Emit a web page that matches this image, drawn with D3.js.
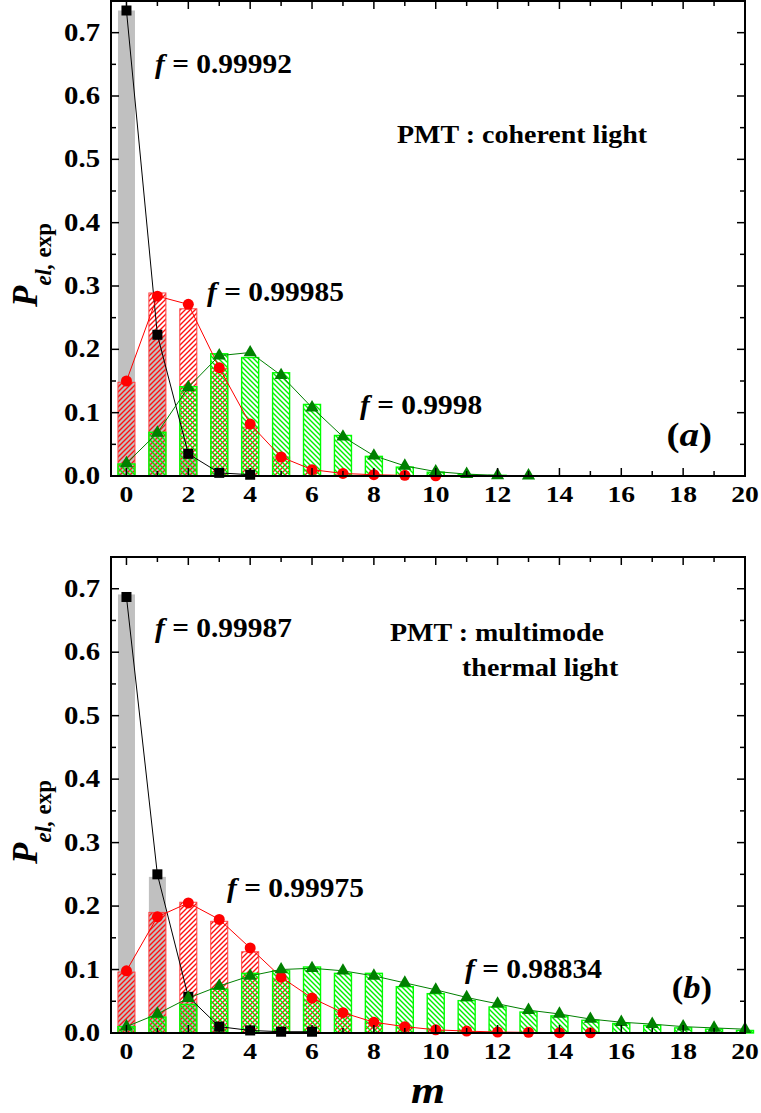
<!DOCTYPE html>
<html><head><meta charset="utf-8">
<script src="https://cdn.jsdelivr.net/npm/d3@7"></script>
<style>
body{margin:0;background:#fff;}
svg{display:block;}
</style></head>
<body>
<svg id="chart" width="761" height="1113"></svg>
<script>
// ---------- DATA ----------
const xTicks = [0,2,4,6,8,10,12,14,16,18,20];
const yTicks = [0.0,0.1,0.2,0.3,0.4,0.5,0.6,0.7];

// Panel (a): PMT, coherent light
const aGrayBars   = [0.735,0.222,0.035,0.005,0.002];
const aSquares    = [0.735,0.223,0.035,0.005,0.002];
const aRedBars    = [0.148,0.289,0.264,0.170,0.077,0.030,0.009,0.003,0.001,0.0005,0.0002];
const aCircles    = [0.150,0.284,0.271,0.171,0.082,0.030,0.010,0.004,0.002,0.001,0.0003];
const aGreenBars  = [0.019,0.069,0.141,0.193,0.187,0.163,0.113,0.064,0.031,0.014,0.006,0.002,0.001,0.0005];
const aTriangles  = [0.020,0.068,0.140,0.190,0.195,0.159,0.108,0.062,0.032,0.016,0.007,0.003,0.001,0.0005];

// Panel (b): PMT, multimode thermal light
const bGrayBars   = [0.691,0.246,0.050,0.008,0.002,0.001,0.001];
const bSquares    = [0.687,0.250,0.057,0.010,0.004,0.002,0.002];
const bRedBars    = [0.096,0.190,0.206,0.176,0.128,0.085,0.052,0.030,0.016,0.009,0.004,0.002,0.001,0.0005,0.0003,0.0002];
const bCircles    = [0.098,0.183,0.205,0.179,0.134,0.088,0.055,0.032,0.017,0.010,0.005,0.003,0.0015,0.001,0.0005,0.0003];
const bGreenBars  = [0.010,0.025,0.045,0.069,0.094,0.098,0.104,0.094,0.094,0.073,0.062,0.051,0.041,0.033,0.027,0.020,0.015,0.012,0.008,0.006,0.004];
const bTriangles  = [0.010,0.030,0.055,0.074,0.090,0.100,0.102,0.098,0.090,0.079,0.068,0.056,0.046,0.036,0.030,0.022,0.017,0.014,0.010,0.008,0.006];

const aLabels = [
  {f:"0.99992", x:155, y:73},
  {f:"0.99985", x:207, y:301},
  {f:"0.9998",  x:360, y:414}
];
const bLabels = [
  {f:"0.99987", x:155, y:637},
  {f:"0.99975", x:227, y:897},
  {f:"0.98834", x:465, y:978}
];

// ---------- SETUP ----------
const FONT = "Liberation Serif";
const svg = d3.select("#chart").attr("font-family",FONT).attr("font-weight","bold");
const defs = svg.append("defs");
function hatch(id, color, dir){
  const p = defs.append("pattern").attr("id",id).attr("patternUnits","userSpaceOnUse")
    .attr("width",5).attr("height",5);
  const d = dir>0 ? "M-1,1 l2,-2 M0,5 l5,-5 M4,6 l2,-2" : "M-1,4 l2,2 M0,0 l5,5 M4,-1 l2,2";
  p.append("path").attr("d",d).attr("stroke",color).attr("stroke-width",1.4).attr("fill","none");
}
hatch("hRed","#ff1010",1);
hatch("hGreen","#00f000",-1);

const x = d3.scaleLinear().domain([-0.5,20]).range([111,745]);
const barW = x(0.55)-x(0);

function stext(g, px, py, anchor, size, parts, sx){
  const t = g.append("text").attr("transform",`translate(${px},${py}) scale(${sx},1)`)
    .attr("text-anchor",anchor).attr("font-size",size)
    .attr("font-family",FONT).attr("font-weight","bold");
  parts.forEach(p=>{
    const ts = t.append("tspan").text(p.t);
    if(p.i) ts.attr("font-style","italic");
  });
  return t;
}

function panel(top, bottom, gray, squares, red, circles, green, tris, labels, tag){
  const y = d3.scaleLinear().domain([0,0.75]).range([bottom, top]);
  const g = svg.append("g");
  const idx = a => a.map((v,i)=>({m:i,v}));

  g.selectAll(null).data(idx(gray)).join("rect")
    .attr("x",d=>x(d.m)-barW/2).attr("width",barW)
    .attr("y",d=>y(d.v)).attr("height",d=>y(0)-y(d.v))
    .attr("fill","#c0c0c0");
  g.selectAll(null).data(idx(red)).join("rect")
    .attr("x",d=>x(d.m)-barW/2).attr("width",barW)
    .attr("y",d=>y(d.v)).attr("height",d=>y(0)-y(d.v))
    .attr("fill","url(#hRed)").attr("stroke","#ff4040").attr("stroke-width",1);
  g.selectAll(null).data(idx(green)).join("rect")
    .attr("x",d=>x(d.m)-barW/2).attr("width",barW)
    .attr("y",d=>y(d.v)).attr("height",d=>y(0)-y(d.v))
    .attr("fill","url(#hGreen)").attr("stroke","#00ff00").attr("stroke-width",1.4);

  const line = d3.line().x(d=>x(d.m)).y(d=>y(d.v));
  g.append("path").datum(idx(squares)).attr("d",line).attr("fill","none").attr("stroke","#000").attr("stroke-width",1);
  g.append("path").datum(idx(circles)).attr("d",line).attr("fill","none").attr("stroke","#ff0000").attr("stroke-width",1);
  g.append("path").datum(idx(tris)).attr("d",line).attr("fill","none").attr("stroke","#008000").attr("stroke-width",1);
  g.selectAll(null).data(idx(squares)).join("rect")
    .attr("x",d=>x(d.m)-5).attr("y",d=>y(d.v)-5).attr("width",10).attr("height",10).attr("fill","#000");
  g.selectAll(null).data(idx(circles)).join("circle")
    .attr("cx",d=>x(d.m)).attr("cy",d=>y(d.v)).attr("r",5.5).attr("fill","#ff0000");
  const tri = d3.symbol().type(d3.symbolTriangle).size(75);
  g.selectAll(null).data(idx(tris)).join("path")
    .attr("transform",d=>`translate(${x(d.m)},${y(d.v)})`).attr("d",tri).attr("fill","#008000");

  g.append("rect").attr("x",111).attr("y",top).attr("width",745-111).attr("height",bottom-top)
    .attr("fill","none").attr("stroke","#000").attr("stroke-width",2);

  for(let m=0;m<=20;m++){
    const L = m%2===0 ? 8 : 5;
    g.append("line").attr("x1",x(m)).attr("x2",x(m)).attr("y1",bottom).attr("y2",bottom-L).attr("stroke","#000").attr("stroke-width",1.5);
    g.append("line").attr("x1",x(m)).attr("x2",x(m)).attr("y1",top).attr("y2",top+L).attr("stroke","#000").attr("stroke-width",1.5);
  }
  for(let k=0;k<=15;k++){
    const v = k*0.05, L = k%2===0 ? 8 : 5;
    g.append("line").attr("x1",111).attr("x2",111+L).attr("y1",y(v)).attr("y2",y(v)).attr("stroke","#000").attr("stroke-width",1.5);
    g.append("line").attr("x1",745).attr("x2",745-L).attr("y1",y(v)).attr("y2",y(v)).attr("stroke","#000").attr("stroke-width",1.5);
  }
  xTicks.forEach(m=>stext(g, x(m), bottom+26, "middle", 24, [{t:String(m)}], 1.15));
  yTicks.forEach(v=>stext(g, 100, y(v)+8, "end", 25, [{t:v.toFixed(1)}], 1.15));

  const yt = g.append("text").attr("transform",`translate(37,${bottom-169}) rotate(-90)`)
    .attr("font-size",35).attr("font-family",FONT).attr("font-weight","bold");
  yt.append("tspan").attr("font-style","italic").text("P");
  yt.append("tspan").attr("font-size",23).attr("dy",14).attr("font-style","italic").text("el,");
  yt.append("tspan").attr("font-size",23).text(" exp");

  labels.forEach(l=>stext(g, l.x, l.y, "start", 27.5, [{t:"f",i:true},{t:" = "+l.f}], 1.07));
  stext(g, 712, tag.y, "end", tag.s, [{t:"("},{t:tag.t,i:true},{t:")"}], tag.sx);
  return g;
}

const ga = panel(1, 476, aGrayBars, aSquares, aRedBars, aCircles, aGreenBars, aTriangles, aLabels, {t:"a",y:446,s:34,sx:1.15});
stext(ga, 397, 143, "start", 25, [{t:"PMT : coherent light"}], 1.12);

const gb = panel(557, 1033, bGrayBars, bSquares, bRedBars, bCircles, bGreenBars, bTriangles, bLabels, {t:"b",y:998,s:32,sx:1.08});
stext(gb, 390, 641, "start", 25, [{t:"PMT : multimode"}], 1.12);
stext(gb, 462, 676, "start", 25, [{t:"thermal light"}], 1.12);

stext(svg, 428, 1103, "middle", 38, [{t:"m",i:true}], 1.15);
</script>
</body></html>
